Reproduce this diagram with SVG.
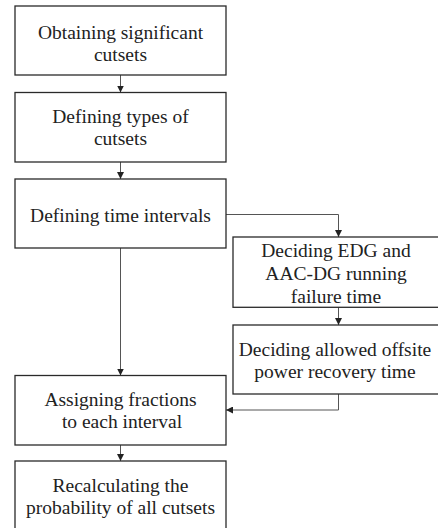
<svg xmlns="http://www.w3.org/2000/svg" width="438" height="528" viewBox="0 0 438 528">
<style>
.box{fill:#fff;stroke:#2a2a2a;stroke-width:1.3}
.t{font-family:'Liberation Serif','Times New Roman',Tinos,Times,'DejaVu Serif',serif;font-size:19.5px;fill:#222;text-anchor:middle}
.c{fill:none;stroke:#555;stroke-width:1}
</style>
<defs>
<marker id="ah" viewBox="0 0 10 10" refX="10" refY="5" markerWidth="7" markerHeight="7" markerUnits="userSpaceOnUse" orient="auto">
<path d="M0,0 L10,5 L0,10 Z" fill="#222"/>
</marker>
</defs>
<rect width="438" height="528" fill="#fff"/>
<g id="connectors">
<path class="c" d="M120.5,75 V92.5" marker-end="url(#ah)"/>
<path class="c" d="M120.5,162 V179" marker-end="url(#ah)"/>
<path class="c" d="M226,214.5 H338.5 V237" marker-end="url(#ah)"/>
<path class="c" d="M338.5,307.5 V325" marker-end="url(#ah)"/>
<path class="c" d="M338.5,394 V410 H226" marker-end="url(#ah)"/>
<path class="c" d="M120.5,248 V375.5" marker-end="url(#ah)"/>
<path class="c" d="M120.5,445 V461" marker-end="url(#ah)"/>
</g>
<g id="n1">
<rect class="box" x="15" y="6" width="211" height="69"/>
<text class="t" x="120.5" y="39.3">Obtaining significant</text>
<text class="t" x="120.5" y="60.8">cutsets</text>
</g>
<g id="n2">
<rect class="box" x="15" y="92.5" width="211" height="69.5"/>
<text class="t" x="120.5" y="123.3">Defining types of</text>
<text class="t" x="120.5" y="145">cutsets</text>
</g>
<g id="n3">
<rect class="box" x="15" y="179" width="211" height="69"/>
<text class="t" x="120.5" y="221.7">Defining time intervals</text>
</g>
<g id="n4">
<rect class="box" x="233" y="237" width="212" height="70.3"/>
<text class="t" x="336" y="256.7">Deciding EDG and</text>
<text class="t" x="336" y="280">AAC-DG running</text>
<text class="t" x="336" y="302.7">failure time</text>
</g>
<g id="n5">
<rect class="box" x="233" y="325" width="212" height="69"/>
<text class="t" x="335" y="356">Deciding allowed offsite</text>
<text class="t" x="335" y="377.7">power recovery time</text>
</g>
<g id="n6">
<rect class="box" x="15" y="375.5" width="211" height="69.5"/>
<text class="t" x="120.5" y="405.7">Assigning fractions</text>
<text class="t" x="122" y="428.3">to each interval</text>
</g>
<g id="n7">
<rect class="box" x="15" y="461" width="211" height="80"/>
<text class="t" x="120.5" y="491.7">Recalculating the</text>
<text class="t" x="120.5" y="514">probability of all cutsets</text>
</g>
</svg>
